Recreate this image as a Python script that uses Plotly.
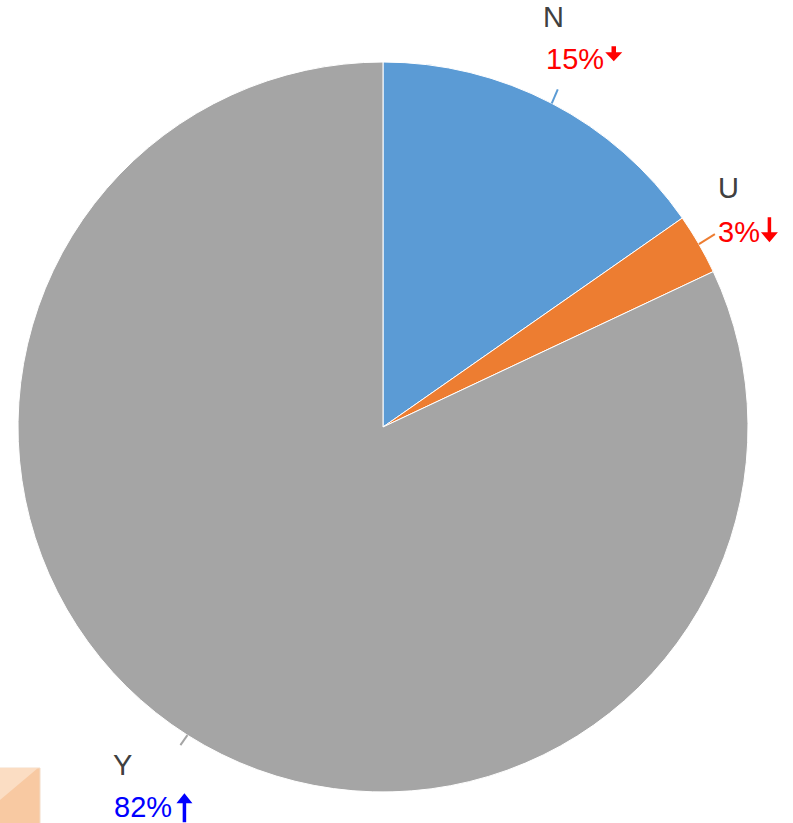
import math
import plotly.graph_objects as go

labels = ["N", "U", "Y"]
values = [15.3, 2.7, 82.0]
pct_text = ["15%", "3%", "82%"]
trend = ["down", "down", "up"]
colors = ["#5B9BD5", "#ED7D31", "#A5A5A5"]
pct_colors = ["#FF0000", "#FF0000", "#0000FF"]

W, H = 793, 823
cx, cy, R = 383, 427, 365

fig = go.Figure(go.Pie(
    labels=labels, values=values, sort=False, direction="clockwise", rotation=0,
    marker=dict(colors=colors, line=dict(color="white", width=1)),
    textinfo="none", hoverinfo="label+percent", showlegend=False,
    domain=dict(x=[(cx - R) / W, (cx + R) / W], y=[1 - (cy + R) / H, 1 - (cy - R) / H]),
))

def px(x):
    return x / W

def py(y):
    return 1 - y / H

def arrow_path(xc, y_tail, y_tip, stem_w, head_w, head_len):
    d = 1 if y_tip > y_tail else -1
    yb = y_tip - d * head_len
    pts = [(xc - stem_w / 2, y_tail), (xc + stem_w / 2, y_tail), (xc + stem_w / 2, yb),
           (xc + head_w / 2, yb), (xc, y_tip), (xc - head_w / 2, yb), (xc - stem_w / 2, yb)]
    return "M " + " L ".join(f"{px(x):.5f},{py(y):.5f}" for x, y in pts) + " Z"

shapes = []
annotations = []
total = sum(values)
cum = 0
offs = {
    "N": dict(name=(-4, -72), pct=(-14, -30), lead=(6, -14),
              arrow=dict(dx=70, tail=-13, tip=2, stem=4.5, head=17, hl=9)),
    "U": dict(name=(14, -46), pct=(1, -2), lead=(16, -10),
              arrow=dict(dx=53.5, tail=-15, tip=10, stem=3.5, head=17, hl=10)),
    "Y": dict(name=(-58, 20), pct=(-68, 62), lead=(-7, 10),
              arrow=dict(dx=72, tail=15, tip=-14, stem=3.5, head=16, hl=10)),
}
for i, lab in enumerate(labels):
    mid = (cum + values[i] / 2) / total * 2 * math.pi
    cum += values[i]
    x0 = cx + R * math.sin(mid)
    y0 = cy - R * math.cos(mid)
    o = offs[lab]
    x1 = x0 + o["lead"][0]
    y1 = y0 + o["lead"][1]
    shapes.append(dict(type="line", xref="paper", yref="paper",
                       x0=px(x0), y0=py(y0), x1=px(x1), y1=py(y1),
                       line=dict(color=colors[i], width=2)))
    nx, ny = x1 + o["name"][0], y1 + o["name"][1]
    annotations.append(dict(xref="paper", yref="paper", x=px(nx), y=py(ny),
                            text=lab, showarrow=False, xanchor="center", yanchor="middle",
                            font=dict(family="Liberation Sans, Arial", size=29, color="#404040")))
    tx, ty = x1 + o["pct"][0], y1 + o["pct"][1]
    annotations.append(dict(xref="paper", yref="paper", x=px(tx), y=py(ty),
                            text=pct_text[i], showarrow=False, xanchor="left", yanchor="middle",
                            font=dict(family="Liberation Sans, Arial", size=29, color=pct_colors[i])))
    a = o["arrow"]
    shapes.append(dict(type="path", xref="paper", yref="paper",
                       path=arrow_path(tx + a["dx"], ty + a["tail"], ty + a["tip"],
                                       a["stem"], a["head"], a["hl"]),
                       fillcolor=pct_colors[i], line=dict(width=0)))

shapes.append(dict(type="rect", xref="paper", yref="paper",
                   x0=px(-2), x1=px(40), y0=py(830), y1=py(768),
                   fillcolor="#F8C9A2", line=dict(color="#F3DCC8", width=1), layer="above"))
shapes.append(dict(type="path", xref="paper", yref="paper",
                   path=f"M {px(0)},{py(768)} L {px(38)},{py(768)} L {px(0)},{py(800)} Z",
                   fillcolor="#FBDDC3", line=dict(width=0), layer="above"))

fig.update_layout(width=W, height=H, margin=dict(l=0, r=0, t=0, b=0),
                  paper_bgcolor="white", plot_bgcolor="white",
                  shapes=shapes, annotations=annotations)
fig.write_html("out.html", config={"displayModeBar": False},
               post_script="document.body.style.margin='0';document.body.style.overflow='hidden';")
